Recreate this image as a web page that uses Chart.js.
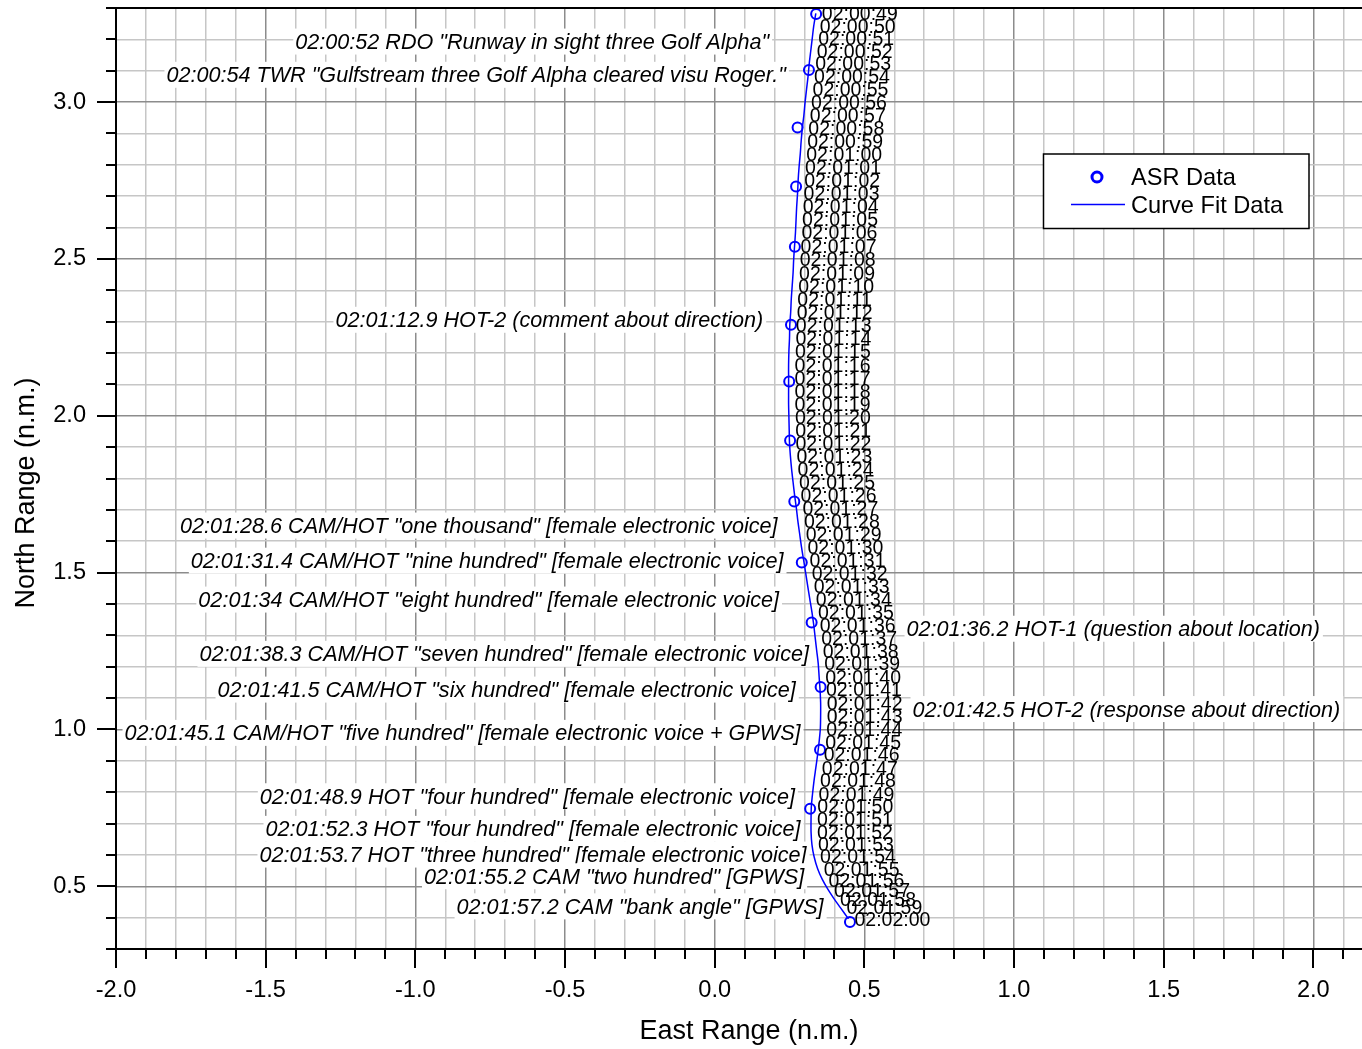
<!DOCTYPE html>
<html>
<head>
<meta charset="utf-8">
<script src="https://cdn.jsdelivr.net/npm/chart.js@4/dist/chart.umd.min.js"></script>
<style>
  html, body { margin: 0; padding: 0; background: #ffffff; }
  #wrap { width: 1362px; height: 1049px; }
</style>
</head>
<body>
<div id="wrap"><canvas id="track" width="1362" height="1049"></canvas></div>
<script>
// ASR radar returns, east / north range from the runway reference (n.m.)
const asrEast  = [0.339, 0.315, 0.277, 0.272, 0.268, 0.255, 0.249, 0.252, 0.266, 0.291, 0.324, 0.354, 0.352, 0.319, 0.452];
const asrNorth = [3.281, 3.102, 2.919, 2.731, 2.539, 2.290, 2.109, 1.921, 1.727, 1.532, 1.341, 1.135, 0.935, 0.747, 0.386];

// Curve fit position, one point per second
const fitTimes = [
  "02:00:49", "02:00:50", "02:00:51", "02:00:52", "02:00:53", "02:00:54", "02:00:55", "02:00:56", "02:00:57", "02:00:58",
  "02:00:59", "02:01:00", "02:01:01", "02:01:02", "02:01:03", "02:01:04", "02:01:05", "02:01:06", "02:01:07", "02:01:08",
  "02:01:09", "02:01:10", "02:01:11", "02:01:12", "02:01:13", "02:01:14", "02:01:15", "02:01:16", "02:01:17", "02:01:18",
  "02:01:19", "02:01:20", "02:01:21", "02:01:22", "02:01:23", "02:01:24", "02:01:25", "02:01:26", "02:01:27", "02:01:28",
  "02:01:29", "02:01:30", "02:01:31", "02:01:32", "02:01:33", "02:01:34", "02:01:35", "02:01:36", "02:01:37", "02:01:38",
  "02:01:39", "02:01:40", "02:01:41", "02:01:42", "02:01:43", "02:01:44", "02:01:45", "02:01:46", "02:01:47", "02:01:48",
  "02:01:49", "02:01:50", "02:01:51", "02:01:52", "02:01:53", "02:01:54", "02:01:55", "02:01:56", "02:01:57", "02:01:58",
  "02:01:59", "02:02:00"
];
const fitEast = [
  0.338, 0.331, 0.326, 0.321, 0.316, 0.312, 0.307, 0.302, 0.298, 0.293,
  0.289, 0.286, 0.282, 0.279, 0.277, 0.274, 0.272, 0.270, 0.267, 0.264,
  0.262, 0.259, 0.256, 0.254, 0.251, 0.250, 0.248, 0.247, 0.247, 0.247,
  0.247, 0.248, 0.249, 0.250, 0.253, 0.257, 0.262, 0.267, 0.273, 0.278,
  0.284, 0.290, 0.297, 0.304, 0.311, 0.318, 0.325, 0.331, 0.336, 0.341,
  0.346, 0.349, 0.352, 0.354, 0.354, 0.353, 0.349, 0.344, 0.338, 0.332,
  0.327, 0.323, 0.322, 0.322, 0.325, 0.332, 0.344, 0.360, 0.379, 0.399,
  0.420, 0.447
];
const fitNorth = [
  3.283, 3.243, 3.203, 3.163, 3.123, 3.082, 3.041, 2.999, 2.958, 2.918,
  2.876, 2.835, 2.793, 2.752, 2.710, 2.667, 2.626, 2.585, 2.542, 2.499,
  2.456, 2.414, 2.373, 2.331, 2.290, 2.247, 2.205, 2.162, 2.120, 2.078,
  2.037, 1.996, 1.955, 1.914, 1.872, 1.830, 1.788, 1.747, 1.705, 1.664,
  1.623, 1.582, 1.541, 1.499, 1.456, 1.415, 1.374, 1.333, 1.291, 1.250,
  1.210, 1.168, 1.127, 1.085, 1.044, 1.002, 0.961, 0.920, 0.878, 0.837,
  0.795, 0.755, 0.715, 0.673, 0.633, 0.595, 0.556, 0.521, 0.489, 0.460,
  0.432, 0.396
];

// CVR events placed beside the track (anchor in n.m.; text sits to the given side of it)
const cvrText = [
  '02:00:52 RDO "Runway in sight three Golf Alpha"',
  '02:00:54 TWR "Gulfstream three Golf Alpha cleared visu Roger."',
  '02:01:12.9 HOT-2 (comment about direction)',
  '02:01:28.6 CAM/HOT "one thousand" [female electronic voice]',
  '02:01:31.4 CAM/HOT "nine hundred" [female electronic voice]',
  '02:01:34 CAM/HOT "eight hundred" [female electronic voice]',
  '02:01:38.3 CAM/HOT "seven hundred" [female electronic voice]',
  '02:01:41.5 CAM/HOT "six hundred" [female electronic voice]',
  '02:01:45.1 CAM/HOT "five hundred" [female electronic voice + GPWS]',
  '02:01:48.9 HOT "four hundred" [female electronic voice]',
  '02:01:52.3 HOT "four hundred" [female electronic voice]',
  '02:01:53.7 HOT "three hundred" [female electronic voice]',
  '02:01:55.2 CAM "two hundred" [GPWS]',
  '02:01:57.2 CAM "bank angle" [GPWS]',
  '02:01:36.2 HOT-1 (question about location)',
  '02:01:42.5 HOT-2 (response about direction)'
];
const cvrEast  = [0.182, 0.238, 0.162, 0.210, 0.230, 0.215, 0.315, 0.271, 0.287, 0.268, 0.287, 0.307, 0.299, 0.364, 0.641, 0.661];
const cvrNorth = [3.193, 3.087, 2.306, 1.650, 1.538, 1.414, 1.241, 1.127, 0.989, 0.787, 0.683, 0.601, 0.532, 0.436, 1.321, 1.065];
const cvrSide  = ['left', 'left', 'left', 'left', 'left', 'left', 'left', 'left', 'left', 'left', 'left', 'left', 'left', 'left', 'right', 'right'];

// Axis ranges and labels
const eastRange  = [-2.0, 2.1626];
const northRange = [0.3, 3.3];
const axisTitles = { x: 'East Range (n.m.)', y: 'North Range (n.m.)' };
const seriesNames = ['ASR Data', 'Curve Fit Data'];

const FONT = "'Liberation Sans', Arial, Helvetica, sans-serif";
const BLUE = '#0000ff';
const TEXT_NUDGE = 1.5;   // puts the cap centre on the anchor line
const isMajor = v => Math.abs(v * 2 - Math.round(v * 2)) < 1e-6;
const gridColor = ctx => (ctx.tick && isMajor(ctx.tick.value)) ? '#8c8c8c' : '#c6c6c6';
// fixed axis band sizes; no extra edge padding from tick labels
const fixBand = (s, size) => {
  if (s.isHorizontal()) s.height = size; else s.width = size;
  s.paddingTop = s.paddingBottom = s.paddingLeft = s.paddingRight = 0;
};

const asrPoints = asrEast.map((e, i) => ({ x: e, y: asrNorth[i] }));
const fitPoints = fitEast.map((e, i) => ({ x: e, y: fitNorth[i] }));

const overlay = {
  id: 'overlay',
  beforeDatasetsDraw(chart) {
    // CVR call-outs on white boxes over the grid
    const { ctx, scales: { x, y } } = chart;
    ctx.save();
    ctx.font = `italic 21.6px ${FONT}`;
    ctx.textBaseline = 'middle';
    ctx.textAlign = 'left';
    cvrText.forEach((t, i) => {
      const px = x.getPixelForValue(cvrEast[i]);
      const py = y.getPixelForValue(cvrNorth[i]);
      const w = ctx.measureText(t).width;
      const left = cvrSide[i] === 'left' ? px - w : px;
      ctx.fillStyle = '#ffffff';
      ctx.fillRect(left - 2, py - 13, w + 5, 26);
      ctx.fillStyle = '#000000';
      ctx.fillText(t, left, py + TEXT_NUDGE);
    });
    ctx.restore();
  },
  afterDatasetsDraw(chart) {
    // one time tag per second along the fitted track
    const { ctx, chartArea: a } = chart;
    const meta = chart.getDatasetMeta(1);
    ctx.save();
    ctx.beginPath();
    ctx.rect(a.left, a.top, a.right - a.left, a.bottom - a.top);
    ctx.clip();
    ctx.font = `19.5px ${FONT}`;
    ctx.fillStyle = '#000000';
    ctx.textBaseline = 'middle';
    ctx.textAlign = 'left';
    meta.data.forEach((pt, i) => ctx.fillText(fitTimes[i], pt.x + 6, pt.y + TEXT_NUDGE));
    ctx.restore();
  },
  afterDraw(chart) {
    const { ctx, chartArea: a, scales: { x, y } } = chart;
    ctx.save();
    ctx.strokeStyle = '#000000';
    ctx.lineWidth = 2;
    // frame line along the top
    ctx.beginPath();
    ctx.moveTo(a.left - 1, a.top);
    ctx.lineTo(a.right, a.top);
    ctx.stroke();
    // outward tick marks: long at 0.5, short at 0.1
    x.ticks.forEach(t => {
      const px = Math.round(x.getPixelForValue(t.value));
      const len = isMajor(t.value) ? 19 : 10;
      ctx.beginPath();
      ctx.moveTo(px, a.bottom);
      ctx.lineTo(px, a.bottom + len);
      ctx.stroke();
    });
    y.ticks.forEach(t => {
      const py = Math.round(y.getPixelForValue(t.value));
      const len = isMajor(t.value) ? 19 : 10;
      ctx.beginPath();
      ctx.moveTo(a.left, py);
      ctx.lineTo(a.left - len, py);
      ctx.stroke();
    });
    // axis titles
    ctx.fillStyle = '#000000';
    ctx.font = `27px ${FONT}`;
    ctx.textAlign = 'center';
    ctx.textBaseline = 'middle';
    ctx.fillText(axisTitles.x, 749, a.bottom + 83);
    ctx.save();
    ctx.translate(27, 493);
    ctx.rotate(-Math.PI / 2);
    ctx.fillText(axisTitles.y, 0, 0);
    ctx.restore();
    // legend box
    const lx = 1043.5, ly = 154, lw = 265.5, lh = 74.5;
    ctx.fillStyle = '#ffffff';
    ctx.fillRect(lx, ly, lw, lh);
    ctx.lineWidth = 1.5;
    ctx.strokeStyle = '#000000';
    ctx.strokeRect(lx, ly, lw, lh);
    ctx.strokeStyle = BLUE;
    ctx.lineWidth = 3;
    ctx.beginPath();
    ctx.arc(1097, 177, 5, 0, Math.PI * 2);
    ctx.stroke();
    ctx.lineWidth = 1.5;
    ctx.beginPath();
    ctx.moveTo(1071, 204.5);
    ctx.lineTo(1125, 204.5);
    ctx.stroke();
    ctx.fillStyle = '#000000';
    ctx.font = `23.6px ${FONT}`;
    ctx.textAlign = 'left';
    ctx.fillText(seriesNames[0], 1131, 178);
    ctx.fillText(seriesNames[1], 1131, 206);
    ctx.restore();
  }
};

Chart.defaults.font.family = FONT;

new Chart(document.getElementById('track'), {
  type: 'scatter',
  data: {
    datasets: [
      {
        label: seriesNames[0],
        data: asrPoints,
        showLine: false,
        pointStyle: 'circle',
        pointRadius: 5,
        pointBorderWidth: 2,
        pointBorderColor: BLUE,
        pointBackgroundColor: 'rgba(0,0,0,0)',
        pointHoverRadius: 5
      },
      {
        label: seriesNames[1],
        data: fitPoints,
        showLine: true,
        borderColor: BLUE,
        borderWidth: 1.5,
        tension: 0.3,
        pointRadius: 0,
        pointHoverRadius: 0,
        fill: false
      }
    ]
  },
  options: {
    responsive: false,
    animation: false,
    devicePixelRatio: 1,
    events: [],
    layout: { autoPadding: false, padding: { top: 8, right: 0, bottom: 0, left: 0 } },
    plugins: { legend: { display: false }, tooltip: { enabled: false } },
    scales: {
      x: {
        type: 'linear',
        min: eastRange[0],
        max: eastRange[1],
        afterFit: s => fixBand(s, 100),
        grid: { drawTicks: false, color: gridColor, lineWidth: 1.5 },
        border: { display: true, color: '#000000', width: 2 },
        ticks: {
          stepSize: 0.1,
          includeBounds: false,
          autoSkip: false,
          maxRotation: 0,
          padding: 27,
          color: '#000000',
          font: { size: 23.6 },
          callback: v => isMajor(v) ? v.toFixed(1) : ''
        }
      },
      y: {
        type: 'linear',
        min: northRange[0],
        max: northRange[1],
        afterFit: s => fixBand(s, 116),
        grid: { drawTicks: false, color: gridColor, lineWidth: 1.5 },
        border: { display: true, color: '#000000', width: 2 },
        ticks: {
          stepSize: 0.1,
          includeBounds: false,
          autoSkip: false,
          padding: 30,
          color: '#000000',
          font: { size: 23.6 },
          callback: v => isMajor(v) ? v.toFixed(1) : ''
        }
      }
    }
  },
  plugins: [overlay]
});
</script>
</body>
</html>
